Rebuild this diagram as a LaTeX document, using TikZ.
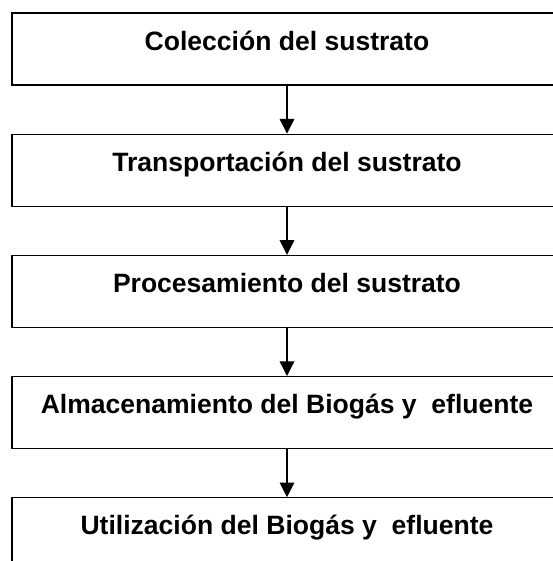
\documentclass[tikz,border=0pt]{standalone}
\usepackage{fontspec}
\setmainfont{Liberation Sans}
\usetikzlibrary{positioning,arrows.meta}

\tikzset{
    stage/.style={draw, line width=0.9pt, rectangle, minimum width=412.5pt,
        inner xsep=0pt, inner ysep=0pt, text height=27.75pt, text depth=26.25pt,
        font=\fontsize{19.9}{24}\selectfont\bfseries},
    flow/.style={-{Triangle[length=11pt,width=11pt]}, line width=0.9pt}
}

\begin{document}
\begin{tikzpicture}[x=0.75pt, y=0.75pt, node distance=36pt]

    % Frame of the page
    \useasboundingbox (0,0) rectangle (553,-561);
    \clip (0,0) rectangle (553,-561);

    % Stages
    \node[stage] (coleccion) at (287,-49) {Colección del sustrato};
    \node[stage, below=of coleccion] (transporte) {Transportación del sustrato};
    \node[stage, below=of transporte] (proceso) {Procesamiento del sustrato};
    \node[stage, below=of proceso] (almacen) {Almacenamiento del Biogás y \ efluente};
    \node[stage, below=of almacen] (uso) {Utilización del Biogás y \ efluente};

    % Arrows between stages
    \draw[flow] (coleccion) -- (transporte);
    \draw[flow] (transporte) -- (proceso);
    \draw[flow] (proceso) -- (almacen);
    \draw[flow] (almacen) -- (uso);

\end{tikzpicture}
\end{document}
